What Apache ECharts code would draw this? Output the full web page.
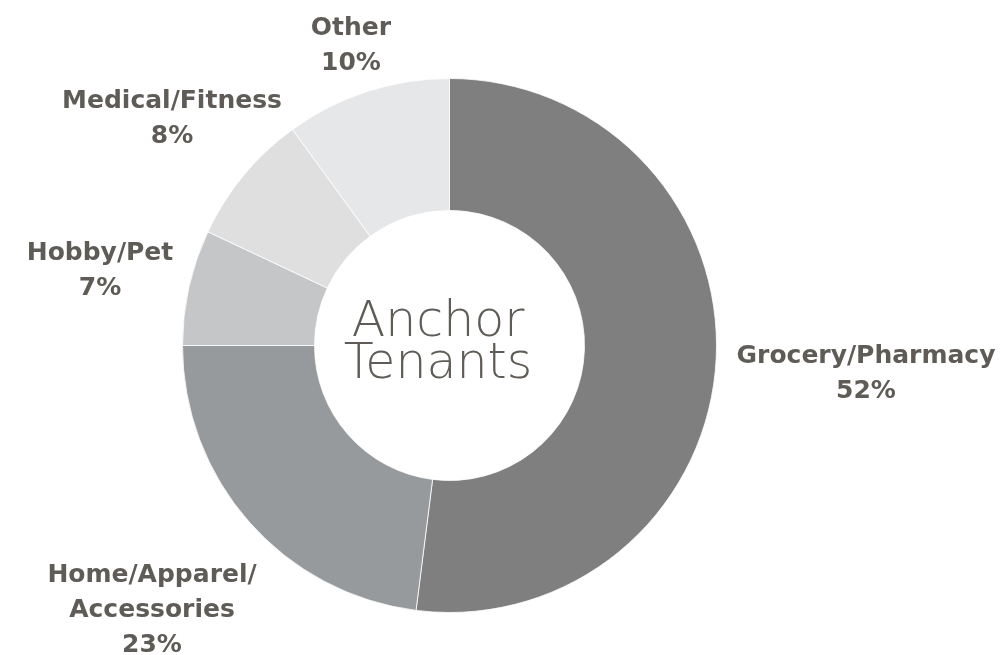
<!DOCTYPE html>
<html>
<head>
<meta charset="utf-8">
<script src="https://cdn.jsdelivr.net/npm/echarts@6/dist/echarts.min.js"></script>
<style>
html, body { margin: 0; padding: 0; background: #fff; }
#main { width: 1007px; height: 655px; }
</style>
</head>
<body>
<div id="main"></div>
<script>
// 数据
var categories = ['Grocery/Pharmacy', 'Home/Apparel/\nAccessories', 'Hobby/Pet', 'Medical/Fitness', 'Other'];
var values = [52, 23, 7, 8, 10];
var colors = ['#7f7f7f', '#979a9d', '#c5c6c8', '#e0dfe0', '#e6e7e9'];

// 标签中心位置 (像素)
var labelPos = [[866, 374], [152, 610], [100, 271], [172, 119], [351, 46]];

var pieData = [];
for (var i = 0; i < categories.length; i++) {
    pieData.push({ name: categories[i], value: values[i], itemStyle: { color: colors[i] } });
}

var myChart = echarts.init(document.getElementById('main'));

var option = {
    animation: false,
    graphic: [{
        type: 'text',
        x: 438,
        y: 344,
        silent: true,
        style: {
            text: 'Anchor\nTenants',
            align: 'center',
            verticalAlign: 'middle',
            font: '200 49px "DejaVu Sans"',
            lineHeight: 42,
            fill: '#5f5c57'
        }
    }],
    series: [{
        type: 'pie',
        center: [449.5, 345.5],
        radius: [135, 267],
        startAngle: 90,
        clockwise: true,
        itemStyle: { borderColor: '#ffffff', borderWidth: 0.8 },
        label: {
            show: true,
            position: 'outside',
            formatter: function (p) { return p.name + '\n' + p.value + '%'; },
            fontFamily: 'DejaVu Sans',
            fontWeight: 'bold',
            fontSize: 25,
            lineHeight: 35,
            color: '#5f5c57',
            align: 'center',
            overflow: 'none'
        },
        labelLine: { show: false },
        labelLayout: function (params) {
            var p = labelPos[params.dataIndex];
            return { x: p[0], y: p[1], align: 'center', verticalAlign: 'middle' };
        },
        emphasis: { disabled: true },
        data: pieData
    }]
};

myChart.setOption(option);
</script>
</body>
</html>
